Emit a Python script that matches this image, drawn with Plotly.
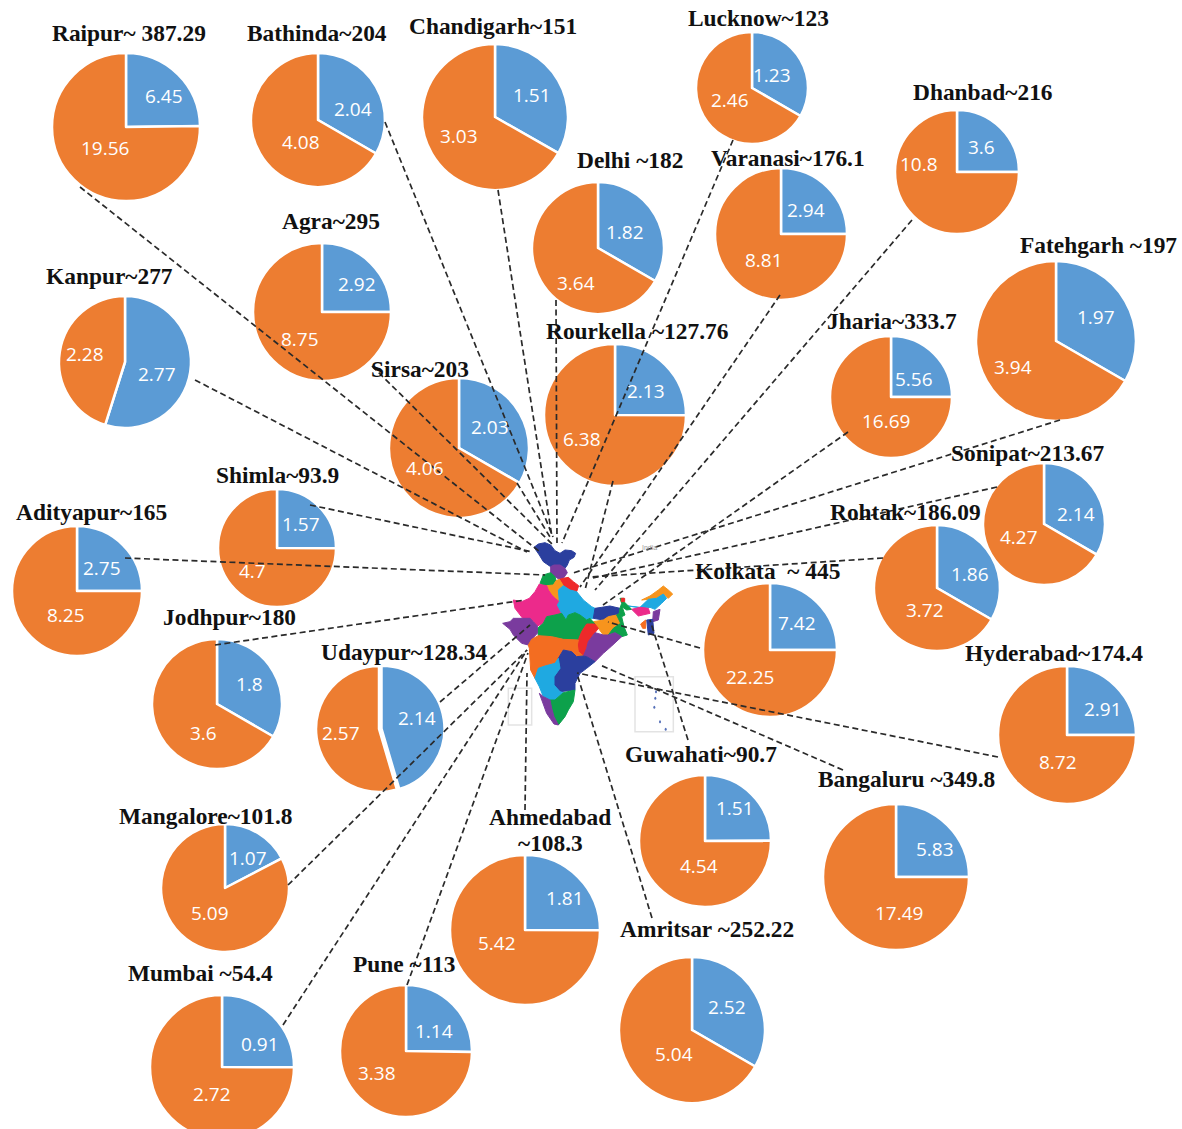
import plotly.graph_objects as go

# Figure canvas; the lowest pie runs slightly past the visible page edge.
WIDTH, HEIGHT = 1182, 1142

# ---- data ----
cities = ["Raipur", "Bathinda", "Chandigarh", "Lucknow", "Dhanbad", "Delhi", "Varanasi",
          "Agra", "Kanpur", "Sirsa", "Rourkella", "Jharia", "Fatehgarh", "Sonipat",
          "Rohtak", "Kolkata", "Hyderabad", "Shimla", "Adityapur", "Jodhpur", "Udaypur",
          "Mangalore", "Guwahati", "Bangaluru", "Ahmedabad", "Amritsar", "Pune", "Mumbai"]
titles = ["Raipur~ 387.29", "Bathinda~204", "Chandigarh~151", "Lucknow~123", "Dhanbad~216",
          "Delhi ~182", "Varanasi~176.1", "Agra~295", "Kanpur~277", "Sirsa~203",
          "Rourkella ~127.76", "Jharia~333.7", "Fatehgarh ~197", "Sonipat~213.67",
          "Rohtak~186.09", "Kolkata\u00a0\u00a0~ 445", "Hyderabad~174.4", "Shimla~93.9",
          "Adityapur~165", "Jodhpur~180", "Udaypur~128.34", "Mangalore~101.8",
          "Guwahati~90.7", "Bangaluru ~349.8", "Ahmedabad<br>~108.3", "Amritsar ~252.22",
          "Pune ~113", "Mumbai ~54.4"]
blue_values = [6.45, 2.04, 1.51, 1.23, 3.6, 1.82, 2.94, 2.92, 2.77, 2.03, 2.13, 5.56, 1.97, 2.14,
               1.86, 7.42, 2.91, 1.57, 2.75, 1.8, 2.14, 1.07, 1.51, 5.83, 1.81, 2.52, 1.14, 0.91]
orange_values = [19.56, 4.08, 3.03, 2.46, 10.8, 3.64, 8.81, 8.75, 2.28, 4.06, 6.38, 16.69, 3.94,
                 4.27, 3.72, 22.25, 8.72, 4.7, 8.25, 3.6, 2.57, 5.09, 4.54, 17.49, 5.42, 5.04,
                 3.38, 2.72]
slice_names = ["Part 1", "Part 2"]

# ---- layout, in page pixels ----
pie_centers = [(126, 127), (318, 120), (495, 117), (752, 88), (957, 172), (598, 248), (781, 234),
               (322, 312), (125, 362), (459, 448), (615, 415), (891, 397), (1056, 341), (1044, 524),
               (937, 588), (770, 650), (1067, 735), (277, 548), (77, 591), (217, 704), (379, 729),
               (225, 888), (705, 841), (896, 877), (525, 930), (692, 1030), (406, 1051), (222, 1067)]
pie_radii = [74, 67, 73, 56, 62, 66, 66, 69, 66, 70, 71, 61, 80, 61,
             63, 67, 69, 59, 65, 65, 63, 64, 66, 73, 75, 73, 66, 72]
# Only the Udaypur pie has its blue slice pulled out a little.
blue_pulls = {"Udaypur": 0.04}
title_centers = [(129, 33), (317, 33), (493, 26), (758, 18), (983, 92), (630, 160), (788, 158),
                 (331, 221), (109, 276), (420, 369), (637, 331), (892, 321), (1098, 245), (1027, 453),
                 (905, 512), (768, 571), (1054, 653), (277, 475), (91, 512), (229, 617), (404, 652),
                 (206, 816), (701, 754), (907, 779), (550, 830), (707, 929), (404, 964), (200, 973)]
title_line_gap = 26
blue_label_spots = [(164, 96), (353, 109), (532, 95), (772, 75), (981, 147), (625, 232), (806, 210),
                    (357, 284), (157, 374), (490, 427), (646, 391), (914, 379), (1096, 317), (1076, 514),
                    (970, 574), (797, 623), (1103, 709), (301, 524), (102, 568), (249, 684), (417, 718),
                    (248, 858), (735, 808), (935, 849), (565, 898), (727, 1007), (434, 1031), (260, 1044)]
orange_label_spots = [(105, 148), (301, 142), (459, 136), (730, 100), (919, 164), (576, 283), (764, 260),
                      (300, 339), (85, 354), (425, 468), (582, 439), (886, 421), (1013, 367), (1019, 537),
                      (925, 610), (750, 677), (1058, 762), (252, 571), (66, 615), (203, 733), (341, 733),
                      (210, 913), (699, 866), (899, 913), (497, 943), (674, 1054), (377, 1073), (212, 1094)]

# Dashed leader from each pie to the middle of the map.
leaders = [((80, 187), (540, 552)), ((385, 122), (553, 537)), ((498, 190), (552, 537)),
           ((733, 140), (562, 543)), ((912, 220), (595, 590)), ((556, 300), (557, 543)),
           ((780, 295), (580, 587)), ((372, 366), (553, 545)), ((195, 380), (527, 552)),
           ((517, 483), (550, 537)), ((613, 481), (585, 590)), ((848, 432), (603, 605)),
           ((1060, 420), (573, 573)), ((997, 487), (593, 578)), ((883, 558), (590, 577)),
           ((700, 648), (608, 622)), ((998, 757), (577, 673)), ((310, 505), (533, 552)),
           ((125, 558), (545, 575)), ((215, 645), (525, 600)), ((440, 702), (530, 625)),
           ((288, 885), (527, 650)), ((688, 740), (650, 620)), ((843, 770), (600, 665)),
           ((525, 810), (527, 673)), ((652, 918), (578, 677)), ((407, 985), (528, 653)),
           ((283, 1025), (527, 650))]

# State outlines of the central map, given in a 3x local grid anchored at MAP_ORIGIN.
MAP_ORIGIN = (480, 520)
BLUE, PURPLE, GREEN, RED, AMBER, PINK, CYAN, ORANGE = ("#2B3F9E", "#7A3B9E", "#0DA14B", "#EE2A2A",
                                                        "#F7941D", "#EC2A8B", "#1FA9E1", "#F36D21")
map_regions = [
    (BLUE, [(162, 82), (175, 72), (195, 68), (212, 75), (225, 92), (240, 100), (255, 90), (275, 92), (287, 100),
            (282, 112), (268, 120), (262, 135), (255, 145), (240, 135), (222, 135), (212, 140), (200, 132),
            (190, 125), (178, 105)]),
    (PURPLE, [(212, 140), (222, 135), (240, 135), (255, 145), (262, 158), (250, 175), (238, 178), (225, 170),
              (212, 158)]),
    (GREEN, [(180, 190), (190, 165), (212, 158), (225, 170), (228, 182), (220, 195), (200, 197), (188, 195)]),
    (RED, [(238, 178), (250, 175), (265, 172), (280, 185), (296, 197), (290, 215), (270, 210), (250, 197)]),
    (AMBER, [(200, 197), (220, 195), (228, 182), (238, 178), (250, 197), (235, 210), (238, 245), (225, 235),
             (215, 225), (205, 210)]),
    (PINK, [(100, 240), (125, 245), (148, 235), (165, 215), (178, 192), (188, 195), (200, 197), (205, 210),
            (215, 225), (225, 235), (238, 245), (232, 255), (245, 280), (225, 285), (200, 290), (190, 310),
            (172, 318), (160, 305), (150, 295), (128, 295), (105, 265)]),
    (CYAN, [(235, 210), (250, 197), (270, 210), (290, 215), (310, 240), (335, 260), (345, 265), (340, 295),
            (330, 295), (320, 300), (300, 285), (285, 278), (265, 285), (258, 300), (245, 280), (232, 255),
            (238, 245)]),
    (BLUE, [(345, 265), (365, 262), (390, 258), (420, 265), (418, 280), (410, 285), (385, 290), (370, 300),
            (340, 295)]),
    (AMBER, [(340, 305), (370, 300), (385, 290), (410, 285), (422, 310), (400, 325), (385, 345), (370, 345),
             (355, 325), (345, 312)]),
    (GREEN, [(420, 235), (432, 235), (428, 265), (435, 285), (425, 290), (432, 320), (442, 345), (425, 350),
             (405, 338), (385, 345), (400, 325), (422, 310), (410, 285), (418, 280), (420, 265), (425, 250)]),
    (GREEN, [(172, 325), (190, 310), (200, 290), (225, 285), (245, 280), (258, 300), (265, 285), (285, 278),
             (300, 285), (320, 300), (330, 295), (345, 312), (320, 312), (305, 335), (295, 360), (250, 358),
             (215, 350), (175, 347)]),
    (RED, [(320, 312), (345, 312), (355, 325), (345, 338), (325, 365), (320, 385), (310, 408), (295, 395),
           (292, 375), (295, 360), (305, 335)]),
    (PURPLE, [(345, 338), (370, 345), (385, 345), (405, 338), (425, 350), (395, 378), (370, 400), (345, 425),
              (320, 410), (310, 408), (320, 385), (325, 365)]),
    (PURPLE, [(68, 310), (90, 305), (100, 295), (128, 295), (150, 295), (160, 305), (172, 318), (172, 340),
              (155, 358), (145, 375), (125, 370), (100, 345), (90, 328)]),
    (ORANGE, [(175, 347), (215, 350), (250, 358), (295, 360), (292, 375), (295, 395), (310, 408), (290, 410),
              (275, 395), (250, 390), (235, 415), (225, 430), (195, 438), (175, 445), (165, 475), (152, 450),
              (148, 385), (145, 375), (155, 358)]),
    (BLUE, [(250, 390), (275, 395), (290, 410), (310, 408), (320, 410), (345, 425), (320, 445), (300, 460),
            (285, 490), (285, 510), (240, 515), (222, 495), (222, 470), (240, 445), (235, 415)]),
    (CYAN, [(165, 475), (175, 445), (195, 438), (225, 430), (235, 415), (240, 445), (222, 470), (222, 495),
            (240, 515), (250, 518), (225, 540), (210, 540), (190, 530), (178, 500)]),
    (GREEN, [(210, 540), (225, 540), (250, 518), (285, 510), (280, 545), (265, 570), (255, 590), (235, 615),
             (222, 590), (215, 565)]),
    (PURPLE, [(178, 520), (190, 530), (210, 540), (215, 565), (222, 590), (235, 615), (222, 612), (200, 580)]),
    (AMBER, [(485, 240), (510, 228), (535, 210), (550, 198), (565, 210), (578, 222), (565, 235), (550, 222),
             (530, 235), (505, 238)]),
    (CYAN, [(445, 258), (480, 262), (505, 238), (530, 235), (550, 222), (560, 235), (545, 250), (525, 268),
            (510, 262), (490, 265)]),
    (GREEN, [(432, 245), (445, 258), (455, 268), (440, 270), (428, 262)]),
    (RED, [(424, 235), (434, 235), (434, 245), (424, 245)]),
    (PINK, [(455, 268), (480, 262), (505, 265), (510, 280), (475, 288)]),
    (PURPLE, [(520, 275), (540, 268), (535, 300), (518, 305)]),
    (BLUE, [(500, 300), (518, 298), (522, 340), (505, 345)]),
    (ORANGE, [(482, 312), (497, 300), (497, 325), (488, 325)]),
]
inset_boxes = [((85, 505), (155, 615)), ((465, 470), (580, 635))]
island_marks = [(528, 515), (526, 535), (523, 562), (540, 605), (557, 628)]


def page_x(x):
    return x / WIDTH


def page_y(y):
    return 1 - y / HEIGHT


def grid_to_page(pt):
    return MAP_ORIGIN[0] + pt[0] / 3, MAP_ORIGIN[1] + pt[1] / 3


fig = go.Figure()

# One pie per city, sitting at its own spot on the page.
for name, blue, orange, (cx, cy), r in zip(cities, blue_values, orange_values, pie_centers, pie_radii):
    pull = blue_pulls.get(name, 0)
    outer = r * (1 + pull)  # plotly shrinks the disc to leave room for a pulled slice
    fig.add_trace(go.Pie(
        name=name,
        labels=slice_names,
        values=[blue, orange],
        pull=[pull, 0],
        sort=False,
        direction="clockwise",
        rotation=0,
        domain=dict(x=[page_x(cx - outer), page_x(cx + outer)], y=[page_y(cy + outer), page_y(cy - outer)]),
        marker=dict(colors=["#5B9BD5", "#ED7D31"], line=dict(color="white", width=2.5)),
        textinfo="none",
        showlegend=False,
    ))

shapes = []
for colour, outline in map_regions:
    pts = [grid_to_page(p) for p in outline]
    path = "M " + " L ".join(f"{page_x(x):.5f},{page_y(y):.5f}" for x, y in pts) + " Z"
    shapes.append(dict(type="path", xref="paper", yref="paper", path=path, fillcolor=colour,
                       line=dict(color=colour, width=1), layer="above"))

for a, b in inset_boxes:
    (x0, y0), (x1, y1) = grid_to_page(a), grid_to_page(b)
    shapes.append(dict(type="rect", xref="paper", yref="paper", x0=page_x(x0), x1=page_x(x1),
                       y0=page_y(y0), y1=page_y(y1), line=dict(color="#E3E3E3", width=1.5),
                       layer="above"))

for p in island_marks:
    x, y = grid_to_page(p)
    shapes.append(dict(type="circle", xref="paper", yref="paper", x0=page_x(x - 1), x1=page_x(x + 1),
                       y0=page_y(y + 1.5), y1=page_y(y - 1.5), fillcolor="#5570B8",
                       line=dict(width=0), layer="above"))

for (x0, y0), (x1, y1) in leaders:
    shapes.append(dict(type="line", xref="paper", yref="paper", x0=page_x(x0), y0=page_y(y0),
                       x1=page_x(x1), y1=page_y(y1), layer="above",
                       line=dict(color="#2A2A2A", width=1.7, dash="6px,3.5px")))

# City captions; a two-line caption is stacked around its centre point.
annotations = []
for t, (x, y) in zip(titles, title_centers):
    lines = t.split("<br>")
    top = y - title_line_gap * (len(lines) - 1) / 2
    for i, line in enumerate(lines):
        annotations.append(dict(text=f"<b>{line}</b>", x=page_x(x), y=page_y(top + i * title_line_gap),
                                xref="paper", yref="paper", showarrow=False, xanchor="center",
                                yanchor="middle", font=dict(family="Liberation Serif", size=23.4,
                                                            color="#111111")))

# Slice values, written from the same numbers that size the slices.
for values, spots in ((blue_values, blue_label_spots), (orange_values, orange_label_spots)):
    for v, (x, y) in zip(values, spots):
        annotations.append(dict(text=str(v), x=page_x(x), y=page_y(y), xref="paper", yref="paper",
                                showarrow=False, xanchor="center", yanchor="middle",
                                font=dict(family="Open Sans", size=19, color="white")))

mx, my = grid_to_page((510, 82))
annotations.append(dict(text="India", x=page_x(mx), y=page_y(my), xref="paper", yref="paper",
                        showarrow=False, font=dict(family="Liberation Sans", size=7, color="#999999")))

fig.update_layout(width=WIDTH, height=HEIGHT, margin=dict(l=0, r=0, t=0, b=0), autosize=False,
                  paper_bgcolor="white", plot_bgcolor="white", showlegend=False,
                  shapes=shapes, annotations=annotations)

fig.write_html("out.html", config=dict(displayModeBar=False),
               post_script="document.documentElement.style.overflow='hidden';document.body.style.overflow='hidden';")
